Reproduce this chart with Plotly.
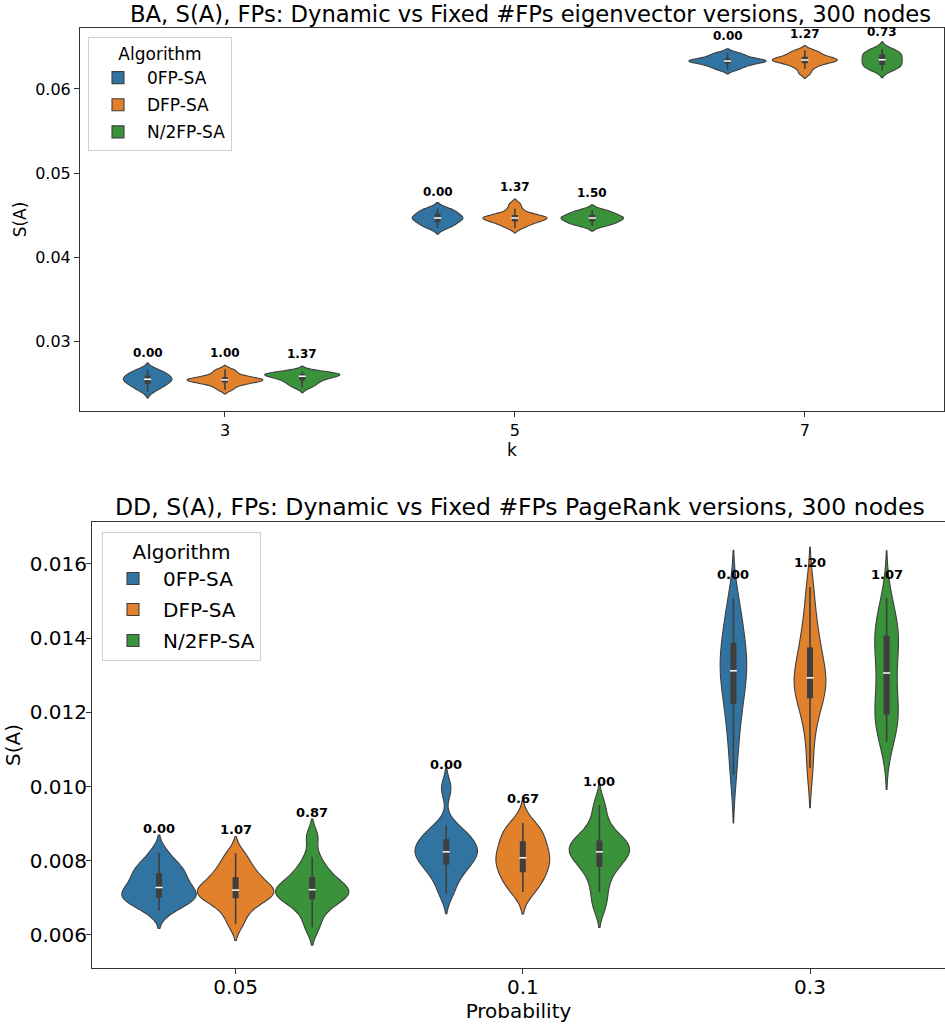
import numpy as np
import plotly.graph_objects as go

# ---------------------------------------------------------------- data
ALGORITHMS = ["0FP-SA", "DFP-SA", "N/2FP-SA"]
COLORS = ["#3274a1", "#e1812c", "#3a923a"]
EDGE = "#3f3f3f"

BA_K = ["3", "5", "7"]
DD_PROB = ["0.05", "0.1", "0.3"]

# BA graphs, eigenvector versions: S(A) samples per k (3, 5, 7)
ba_0fp_sa = [
    [0.02400, 0.02438, 0.02462, 0.02480, 0.02498, 0.02515, 0.02530, 0.02545,
     0.02555, 0.02567, 0.02582, 0.02600, 0.02620, 0.02640, 0.02660],
    [0.04345, 0.04365, 0.04385, 0.04405, 0.04425, 0.04442, 0.04455, 0.04464,
     0.04474, 0.04488, 0.04505, 0.04525, 0.04545, 0.04562, 0.04575],
    [0.06228, 0.06255, 0.06275, 0.06292, 0.06308, 0.06318, 0.06326, 0.06333,
     0.06339, 0.06346, 0.06356, 0.06370, 0.06390, 0.06410, 0.06430],
]
ba_dfp_sa = [
    [0.02420, 0.02460, 0.02484, 0.02500, 0.02513, 0.02523, 0.02531, 0.02538,
     0.02545, 0.02553, 0.02563, 0.02578, 0.02600, 0.02630, 0.02660],
    [0.04345, 0.04378, 0.04400, 0.04416, 0.04432, 0.04445, 0.04456, 0.04464,
     0.04471, 0.04480, 0.04492, 0.04508, 0.04532, 0.04575, 0.04631],
    [0.06185, 0.06240, 0.06276, 0.06298, 0.06316, 0.06330, 0.06339, 0.06345,
     0.06352, 0.06361, 0.06374, 0.06392, 0.06414, 0.06436, 0.06458],
]
ba_n2fp_sa = [
    [0.02445, 0.02475, 0.02500, 0.02520, 0.02540, 0.02556, 0.02570, 0.02581,
     0.02590, 0.02598, 0.02605, 0.02611, 0.02617, 0.02624, 0.02638],
    [0.04369, 0.04385, 0.04400, 0.04415, 0.04430, 0.04443, 0.04455, 0.04464,
     0.04472, 0.04482, 0.04495, 0.04510, 0.04528, 0.04545, 0.04560],
    [0.06220, 0.06240, 0.06258, 0.06276, 0.06294, 0.06312, 0.06330, 0.06348,
     0.06366, 0.06384, 0.06402, 0.06420, 0.06438, 0.06456, 0.06476],
]
# mean FP count per run, per k and algorithm
ba_fp_ratio = [[0.00, 1.00, 1.37], [0.00, 1.37, 1.50], [0.00, 1.27, 0.73]]

# DD graphs, PageRank versions: S(A) samples per probability (0.05, 0.1, 0.3)
dd_0fp_sa = [
    [0.00665, 0.00682, 0.00693, 0.00698, 0.00703, 0.00708, 0.00718, 0.00728,
     0.00735, 0.00748, 0.00762, 0.00772, 0.00781, 0.00795, 0.00822],
    [0.00711, 0.00745, 0.00768, 0.00783, 0.00796, 0.00807, 0.00816, 0.00824,
     0.00832, 0.00842, 0.00853, 0.00864, 0.00876, 0.00895, 0.00995],
    [0.01031, 0.01110, 0.01165, 0.01205, 0.01240, 0.01270, 0.01295, 0.01312,
     0.01330, 0.01352, 0.01375, 0.01400, 0.01430, 0.01470, 0.01508],
]
dd_dfp_sa = [
    [0.00630, 0.00662, 0.00682, 0.00695, 0.00703, 0.00710, 0.00716, 0.00721,
     0.00728, 0.00738, 0.00750, 0.00762, 0.00776, 0.00795, 0.00820],
    [0.00716, 0.00733, 0.00748, 0.00762, 0.00776, 0.00789, 0.00799, 0.00808,
     0.00818, 0.00831, 0.00845, 0.00860, 0.00873, 0.00886, 0.00902],
    [0.01050, 0.01140, 0.01195, 0.01228, 0.01248, 0.01265, 0.01280, 0.01293,
     0.01310, 0.01332, 0.01360, 0.01390, 0.01420, 0.01470, 0.01538],
]
dd_n2fp_sa = [
    [0.00620, 0.00655, 0.00680, 0.00692, 0.00700, 0.00708, 0.00716, 0.00722,
     0.00727, 0.00735, 0.00748, 0.00765, 0.00778, 0.00810, 0.00865],
    [0.00676, 0.00715, 0.00750, 0.00775, 0.00792, 0.00805, 0.00815, 0.00824,
     0.00832, 0.00842, 0.00850, 0.00859, 0.00875, 0.00905, 0.00950],
    [0.01120, 0.01160, 0.01180, 0.01188, 0.01200, 0.01240, 0.01280, 0.01306,
     0.01340, 0.01380, 0.01400, 0.01414, 0.01425, 0.01460, 0.01508],
]
dd_fp_ratio = [[0.00, 1.07, 0.87], [0.00, 0.67, 1.00], [0.00, 1.20, 1.07]]

# ---------------------------------------------------------------- helpers
FONT = "DejaVu Sans"
SLOT = 0.8 / len(ALGORITHMS)


def silverman_bandwidth(values):
    v = np.asarray(values, dtype=float)
    q1, q3 = np.percentile(v, [25, 75])
    spread = min(v.std(ddof=1), (q3 - q1) / 1.34)
    return 0.9 * spread * len(v) ** (-1 / 5)


def peak_density(values, bw):
    v = np.asarray(values, dtype=float)
    grid = np.linspace(v.min() - 2 * bw, v.max() + 2 * bw, 600)
    z = (grid[:, None] - v[None, :]) / bw
    dens = np.exp(-0.5 * z ** 2).sum(axis=1) / (len(v) * bw * np.sqrt(2 * np.pi))
    return dens.max()


def box_stats(values):
    v = np.sort(np.asarray(values, dtype=float))
    q1, med, q3 = np.percentile(v, [25, 50, 75])
    iqr = q3 - q1
    lo = v[v >= q1 - 1.5 * iqr].min()
    hi = v[v <= q3 + 1.5 * iqr].max()
    return q1, med, q3, lo, hi


def draw_panel(fig, samples, ratios, xa, ya, legend_id, label_size, label_gap):
    # each density has unit area; the highest peak of the panel fills one slot
    items = []
    for j in range(len(ALGORITHMS)):
        for i, vals in enumerate(samples[j]):
            bw = silverman_bandwidth(vals)
            items.append((i, j, vals, bw, peak_density(vals, bw)))
    top_peak = max(it[4] for it in items)

    whisk_x, whisk_y, box_x, box_y, med_x, med_y = [], [], [], [], [], []
    for i, j, vals, bw, peak in items:
        alg = ALGORITHMS[j]
        pos = i + (j - 1) * SLOT
        fig.add_trace(go.Violin(
            x0=pos, y=vals, bandwidth=bw, spanmode="soft",
            width=SLOT * peak / top_peak, scalemode="width",
            fillcolor=COLORS[j], opacity=1,
            line=dict(color=EDGE, width=1.1),
            points=False, box_visible=False, meanline_visible=False,
            name=alg, legendgroup=legend_id + alg, showlegend=(i == 0),
            legend=legend_id, hoverinfo="skip",
            xaxis=xa, yaxis=ya,
        ))
        q1, med, q3, lo, hi = box_stats(vals)
        whisk_x += [pos, pos, None]
        whisk_y += [lo, hi, None]
        box_x += [pos, pos, None]
        box_y += [q1, q3, None]
        med_x.append(pos)
        med_y.append(med)
        fig.add_annotation(
            x=pos, y=max(vals), xref=xa, yref=ya, yanchor="middle",
            yshift=label_gap, text="<b>%.2f</b>" % ratios[i][j], showarrow=False,
            font=dict(family=FONT, size=label_size, color="black"),
        )
    common = dict(xaxis=xa, yaxis=ya, showlegend=False, hoverinfo="skip")
    fig.add_trace(go.Scatter(x=whisk_x, y=whisk_y, mode="lines",
                             line=dict(color=EDGE, width=1.6), **common))
    fig.add_trace(go.Scatter(x=box_x, y=box_y, mode="lines",
                             line=dict(color=EDGE, width=6), **common))
    fig.add_trace(go.Scatter(x=med_x, y=med_y, mode="markers",
                             marker=dict(symbol="line-ew", size=5,
                                         line=dict(color="white", width=1.5)),
                             **common))


# ---------------------------------------------------------------- figure
fig = go.Figure()
draw_panel(fig, [ba_0fp_sa, ba_dfp_sa, ba_n2fp_sa], ba_fp_ratio,
           "x", "y", "legend", 12, 17)
draw_panel(fig, [dd_0fp_sa, dd_dfp_sa, dd_n2fp_sa], dd_fp_ratio,
           "x2", "y2", "legend2", 13, 24)

W, H = 945, 1024
axis_common = dict(showline=True, mirror=True, linecolor="#333333", linewidth=1,
                   ticks="outside", ticklen=5, tickwidth=1, tickcolor="#333333",
                   showgrid=False, zeroline=False, color="black")

fig.update_layout(
    width=W, height=H,
    margin=dict(l=0, r=0, t=0, b=0),
    paper_bgcolor="white", plot_bgcolor="white",
    font=dict(family=FONT, color="black"),
    violinmode="overlay", violingap=0, violingroupgap=0,
    xaxis=dict(domain=[80 / W, 944 / W], anchor="y", type="linear",
               range=[-0.5, 2.48], tickvals=[0, 1, 2], ticktext=BA_K,
               tickfont=dict(size=16),
               title=dict(text="k", font=dict(size=17), standoff=0),
               **axis_common),
    yaxis=dict(domain=[1 - 411 / H, 1 - 28 / H], anchor="x",
               range=[0.02167, 0.06726], tick0=0, dtick=0.01, tickformat=".2f",
               tickfont=dict(size=16),
               title=dict(text="S(A)", font=dict(size=17), standoff=4),
               **axis_common),
    xaxis2=dict(domain=[92 / W, 1.0], anchor="y2", type="linear",
                range=[-0.5, 2.47], tickvals=[0, 1, 2], ticktext=DD_PROB,
                tickfont=dict(size=20), ticklabelstandoff=-4,
                title=dict(text="Probability", font=dict(size=20), standoff=0),
                **axis_common),
    yaxis2=dict(domain=[1 - 968 / H, 1 - 522 / H], anchor="x2",
                range=[0.00511, 0.01713], tick0=0, dtick=0.002, tickformat=".3f",
                tickfont=dict(size=20), ticklabelstandoff=-5,
                title=dict(text="S(A)", font=dict(size=20), standoff=3),
                **axis_common),
    legend=dict(x=88 / W, y=1 - 37 / H, xanchor="left", yanchor="top",
                bgcolor="rgba(255,255,255,0.8)", bordercolor="#d0d0d0",
                borderwidth=1, font=dict(size=17),
                title=dict(text="Algorithm", side="top center", font=dict(size=17)),
                itemwidth=48, tracegroupgap=2),
    legend2=dict(x=102 / W, y=1 - 532 / H, xanchor="left", yanchor="top",
                 bgcolor="rgba(255,255,255,0.8)", bordercolor="#d0d0d0",
                 borderwidth=1, font=dict(size=20),
                 title=dict(text="Algorithm", side="top center", font=dict(size=20)),
                 itemwidth=50, tracegroupgap=2),
)

fig.add_annotation(x=530 / W, y=1 - 14 / H, xref="paper", yref="paper",
                   xanchor="center", yanchor="middle",
                   text="BA, S(A), FPs: Dynamic vs Fixed #FPs eigenvector versions, 300 nodes",
                   showarrow=False, font=dict(size=22.7, family=FONT))
fig.add_annotation(x=520 / W, y=1 - 507 / H, xref="paper", yref="paper",
                   xanchor="center", yanchor="middle",
                   text="DD, S(A), FPs: Dynamic vs Fixed #FPs PageRank versions, 300 nodes",
                   showarrow=False, font=dict(size=23.5, family=FONT))

fig.write_html("out.html")
